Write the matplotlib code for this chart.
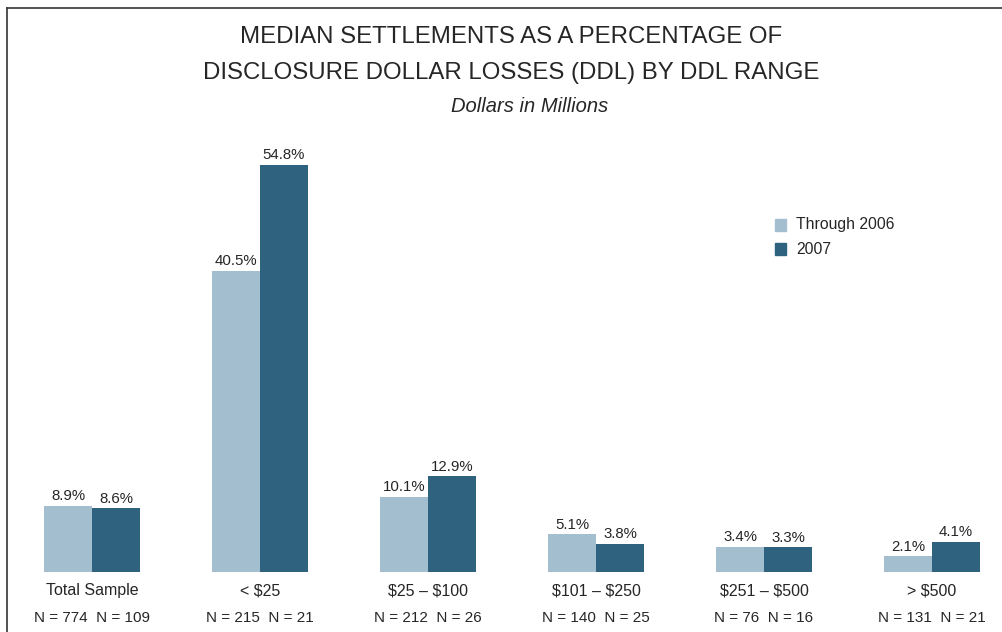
import matplotlib
matplotlib.use("Agg")
import matplotlib.pyplot as plt
from matplotlib.lines import Line2D
from matplotlib.patches import Rectangle
import numpy as np

plt.rcParams["font.family"] = ["Liberation Sans", "DejaVu Sans"]
plt.rcParams["text.parse_math"] = False

categories = ["Total Sample", "< $25", "$25 \u2013 $100", "$101 \u2013 $250",
              "$251 \u2013 $500", "> $500"]
through_2006 = [8.9, 40.5, 10.1, 5.1, 3.4, 2.1]
year_2007 = [8.6, 54.8, 12.9, 3.8, 3.3, 4.1]
n_2006 = [774, 215, 212, 140, 76, 131]
n_2007 = [109, 21, 26, 25, 16, 21]

LIGHT = "#a3bfcf"
DARK = "#2e627e"
TEXT = "#262626"

fig = plt.figure(figsize=(10.03, 6.32), dpi=100)
W, H = 1003, 632

# frame: left and top rules only
fig.add_artist(Line2D([7 / W, 7 / W], [0, 1 - 7.5 / H], color="#333333", lw=1.2,
                      transform=fig.transFigure))
fig.add_artist(Line2D([7 / W, 1], [1 - 7.5 / H, 1 - 7.5 / H], color="#333333", lw=1.2,
                      transform=fig.transFigure))

# axes: baseline at y=572 px, 7.43 px per percentage point
base_px = 572
top_px = 150
ax = fig.add_axes([8 / W, (H - base_px) / H, 995 / W, (base_px - top_px) / H])
ax.set_xlim((8 - 92) / 168, (1003 - 92) / 168)
ax.set_ylim(0, (base_px - top_px) / 7.43)
ax.axis("off")

x = np.arange(len(categories))
bw = 48 / 168
ax.bar(x - bw / 2, through_2006, bw, color=LIGHT, label="Through 2006")
ax.bar(x + bw / 2, year_2007, bw, color=DARK, label="2007")

for i in range(len(categories)):
    ax.text(x[i] - bw / 2, through_2006[i] + 0.35, f"{through_2006[i]:.1f}%",
            ha="center", va="bottom", fontsize=10.8, color=TEXT)
    ax.text(x[i] + bw / 2, year_2007[i] + 0.35, f"{year_2007[i]:.1f}%",
            ha="center", va="bottom", fontsize=10.8, color=TEXT)
    ax.annotate(categories[i], (x[i], 0), xytext=(0, -19), textcoords="offset pixels",
                ha="center", va="center", fontsize=11.5, color=TEXT)
    ax.annotate(f"N = {n_2006[i]}  N = {n_2007[i]}", (x[i], 0), xytext=(0, -46),
                textcoords="offset pixels", ha="center", va="center",
                fontsize=11, color=TEXT)

# legend drawn by hand
for k, (lab, col) in enumerate([("Through 2006", LIGHT), ("2007", DARK)]):
    yc = 1 - (225 + 24 * k) / H
    fig.add_artist(Rectangle((775 / W, yc - 6 / H), 11 / W, 12 / H, color=col,
                             transform=fig.transFigure))
    fig.text(796 / W, yc, lab, ha="left", va="center", fontsize=11.3, color=TEXT)

fig.text(511 / W, 1 - 37 / H, "MEDIAN SETTLEMENTS AS A PERCENTAGE OF",
         ha="center", va="center", fontsize=17.3, color=TEXT)
fig.text(511 / W, 1 - 73 / H, "DISCLOSURE DOLLAR LOSSES (DDL) BY DDL RANGE",
         ha="center", va="center", fontsize=17.3, color=TEXT)
fig.text(530 / W, 1 - 107 / H, "Dollars in Millions", ha="center", va="center",
         fontsize=14.5, style="italic", color=TEXT)

fig.savefig("out.png", dpi=100)
